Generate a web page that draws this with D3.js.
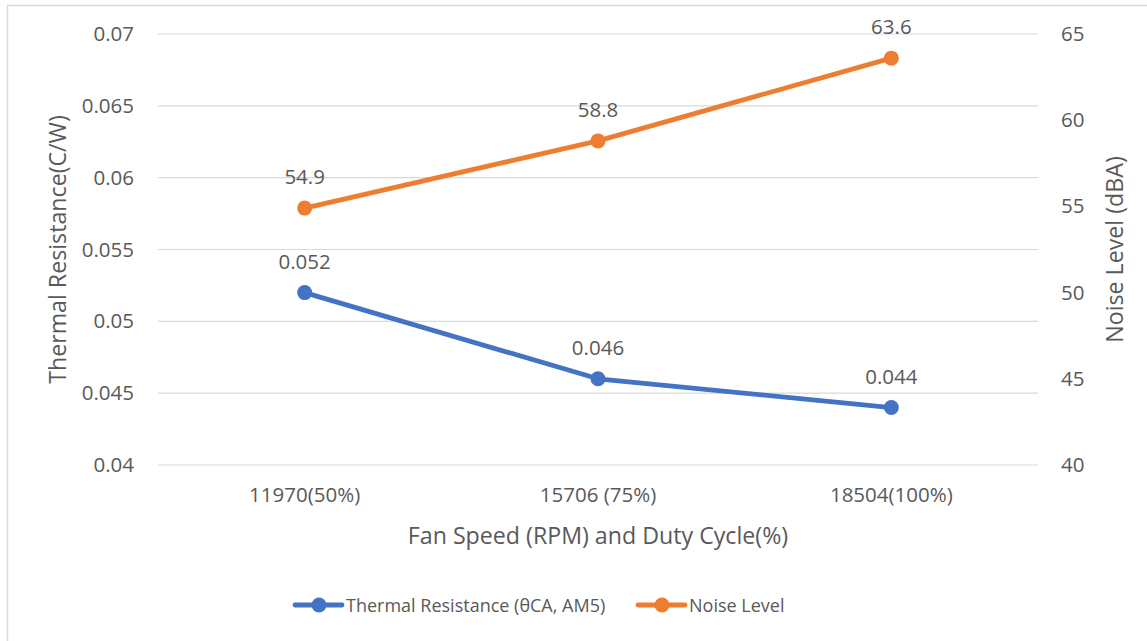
<!DOCTYPE html>
<html><head><meta charset="utf-8">
<script src="https://cdn.jsdelivr.net/npm/d3@7"></script>
<style>body{margin:0;background:#fff}svg{display:block}text{font-family:"Open Sans","Noto Sans",sans-serif;fill:#595959}</style>
</head><body>
<svg id="c" width="1147" height="641"></svg>
<script>
const categories = ["11970(50%)", "15706 (75%)", "18504(100%)"];
const thermal = [0.052, 0.046, 0.044];
const noise = [54.9, 58.8, 63.6];
const leftTicks = [0.04, 0.045, 0.05, 0.055, 0.06, 0.065, 0.07];
const rightTicks = [40, 45, 50, 55, 60, 65];
const seriesNames = ["Thermal Resistance (\u03b8CA, AM5)", "Noise Level"];
const colors = ["#4472C4", "#ED7D31"];

const svg = d3.select("#c");
svg.append("rect").attr("x",7.5).attr("y",5.5).attr("width",1150).attr("height",650)
  .attr("fill","none").attr("stroke","#d9d9d9").attr("stroke-width",1.5);

const L=158, R=1038, T=34, B=465;
const TICK=20.5, TITLE=23.2, LEG=18;
const x = d3.scaleBand().domain(categories).range([L,R]);
const yL = d3.scaleLinear().domain([0.04,0.07]).range([B,T]);
const yR = d3.scaleLinear().domain([40,65]).range([B,T]);

svg.append("g").selectAll("line").data(leftTicks).join("line")
  .attr("x1",L).attr("x2",R).attr("y1",d=>yL(d)).attr("y2",d=>yL(d))
  .attr("stroke","#d9d9d9").attr("stroke-width",1.2);

const gl = svg.append("g").attr("transform",`translate(${L},0)`)
  .call(d3.axisLeft(yL).tickValues(leftTicks).tickFormat(d=>String(+d.toFixed(3))).tickSize(0).tickPadding(24));
gl.select(".domain").remove();
gl.selectAll("text").attr("font-size",TICK).attr("fill","#595959").style("font-family",null);

const gr = svg.append("g").attr("transform",`translate(${R},0)`)
  .call(d3.axisRight(yR).tickValues(rightTicks).tickFormat(d3.format("d")).tickSize(0).tickPadding(23));
gr.select(".domain").remove();
gr.selectAll("text").attr("font-size",TICK).attr("fill","#595959").style("font-family",null);

const gx = svg.append("g").attr("transform",`translate(0,${B})`)
  .call(d3.axisBottom(x).tickSize(0).tickPadding(22));
gx.select(".domain").remove();
gx.selectAll("text").attr("font-size",TICK).attr("fill","#595959").style("font-family",null);

const cx = d=>x(d)+x.bandwidth()/2;

function drawSeries(vals, y, color, fmt){
  const pts = categories.map((c,i)=>[cx(c), y(vals[i])]);
  svg.append("path").attr("d",d3.line()(pts)).attr("fill","none")
    .attr("stroke",color).attr("stroke-width",4.8).attr("stroke-linecap","round").attr("stroke-linejoin","round");
  svg.append("g").selectAll("circle").data(pts).join("circle")
    .attr("cx",d=>d[0]).attr("cy",d=>d[1]).attr("r",7.5).attr("fill",color);
  svg.append("g").selectAll("text").data(vals).join("text")
    .attr("x",(d,i)=>pts[i][0]).attr("y",(d,i)=>pts[i][1]-24)
    .attr("text-anchor","middle").attr("font-size",TICK).text(fmt);
}
drawSeries(thermal, yL, colors[0], d=>String(d));
drawSeries(noise, yR, colors[1], d=>d.toFixed(1));

svg.append("text").attr("transform",`translate(66,${(T+B)/2}) rotate(-90)`)
  .attr("text-anchor","middle").attr("font-size",TITLE).text("Thermal Resistance(C/W)");
svg.append("text").attr("transform",`translate(1123,${(T+B)/2}) rotate(-90)`)
  .attr("text-anchor","middle").attr("font-size",TITLE).text("Noise Level (dBA)");
svg.append("text").attr("x",(L+R)/2).attr("y",544)
  .attr("text-anchor","middle").attr("font-size",TITLE).text("Fan Speed (RPM) and Duty Cycle(%)");

const legX = [295, 638];
const lg = svg.append("g");
seriesNames.forEach((n,i)=>{
  const g = lg.append("g").attr("transform",`translate(${legX[i]},605)`);
  g.append("line").attr("x1",0).attr("x2",47).attr("stroke",colors[i]).attr("stroke-width",4.8).attr("stroke-linecap","round");
  g.append("circle").attr("cx",24).attr("r",7.5).attr("fill",colors[i]);
  g.append("text").attr("x",51).attr("y",7).attr("font-size",LEG).text(n);
});
</script>
</body></html>
